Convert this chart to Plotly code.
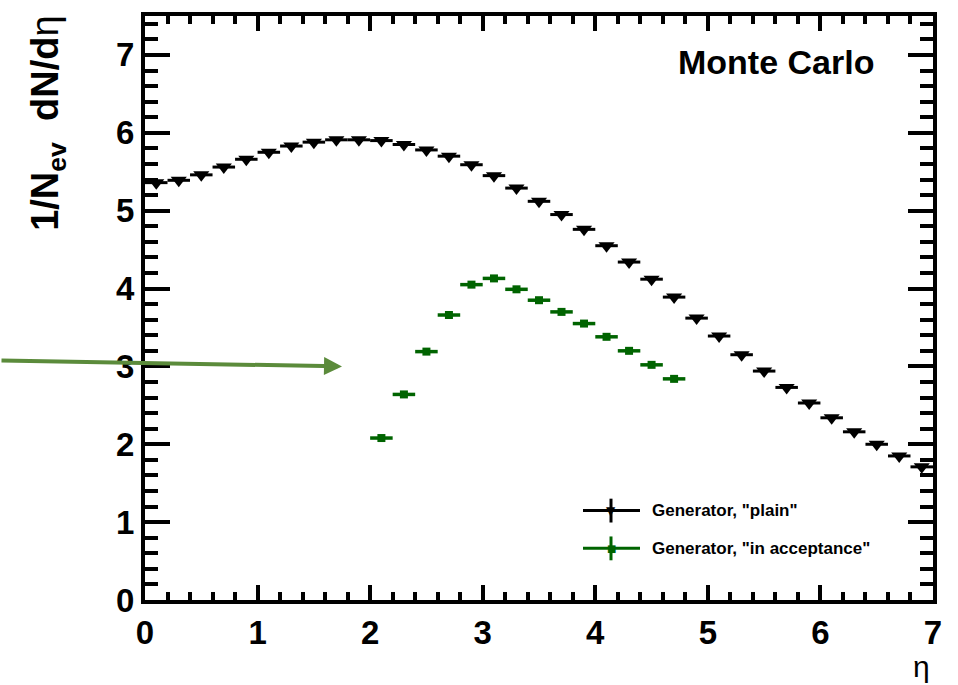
import plotly.graph_objects as go

# Pseudorapidity bin centres (bin width 0.2)
eta_plain = [0.1, 0.3, 0.5, 0.7, 0.9, 1.1, 1.3, 1.5, 1.7, 1.9, 2.1, 2.3,
             2.5, 2.7, 2.9, 3.1, 3.3, 3.5, 3.7, 3.9, 4.1, 4.3, 4.5, 4.7,
             4.9, 5.1, 5.3, 5.5, 5.7, 5.9, 6.1, 6.3, 6.5, 6.7, 6.9]
dndeta_plain = [5.36, 5.39, 5.46, 5.56, 5.66, 5.75, 5.83, 5.88, 5.91, 5.91,
                5.90, 5.85, 5.78, 5.70, 5.59, 5.45, 5.29, 5.12, 4.95, 4.76,
                4.55, 4.34, 4.12, 3.89, 3.62, 3.39, 3.15, 2.94, 2.73, 2.53,
                2.34, 2.16, 2.00, 1.85, 1.71]

eta_acc = [2.1, 2.3, 2.5, 2.7, 2.9, 3.1, 3.3, 3.5, 3.7, 3.9, 4.1, 4.3, 4.5, 4.7]
dndeta_acc = [2.08, 2.64, 3.19, 3.66, 4.05, 4.13, 3.99, 3.85, 3.70, 3.55,
              3.38, 3.20, 3.02, 2.84]

bin_half_width = 0.1

legend_labels = ['Generator, "plain"', 'Generator, "in acceptance"']
plain_color = "black"
acc_color = "#006400"
arrow_color = "#5b8b3b"

FONT = "Liberation Sans"

fig = go.Figure()

fig.add_trace(go.Scatter(
    x=eta_plain, y=dndeta_plain, mode="markers",
    marker=dict(symbol="triangle-down", size=14, color=plain_color),
    error_x=dict(type="constant", value=bin_half_width, thickness=3,
                 width=0, color=plain_color),
    showlegend=False,
))

fig.add_trace(go.Scatter(
    x=eta_acc, y=dndeta_acc, mode="markers",
    marker=dict(symbol="square", size=8, color=acc_color),
    error_x=dict(type="constant", value=bin_half_width, thickness=3.5,
                 width=0, color=acc_color),
    showlegend=False,
))

tickfont = dict(family=FONT, size=33, color="black", weight="bold")

common_axis = dict(
    showgrid=False, zeroline=False, showline=True, linecolor="black",
    linewidth=4, mirror="allticks", ticks="inside", tickwidth=3.5,
    tickcolor="black", tickfont=tickfont, tick0=0, dtick=1,
)

fig.update_xaxes(
    range=[0, 7], ticklen=15,
    minor=dict(dtick=0.2, ticks="inside", ticklen=8, tickwidth=3.5,
               tickcolor="black", showgrid=False),
    **common_axis,
)
fig.update_yaxes(
    range=[0, 7.5], ticklen=25,
    minor=dict(dtick=0.2, ticks="inside", ticklen=13, tickwidth=3.5,
               tickcolor="black", showgrid=False),
    **common_axis,
)

annotations = [
    # y-axis title
    dict(text="<b>1/N<sub>ev</sub>  dN/d</b>η", textangle=-90,
         xref="paper", yref="paper", x=-0.123, y=1.003,
         xanchor="center", yanchor="top", showarrow=False,
         font=dict(family=FONT, size=38, color="black")),
    # x-axis title
    dict(text="η", xref="paper", yref="paper", x=0.985, y=-0.114,
         xanchor="center", yanchor="middle", showarrow=False,
         font=dict(family=FONT, size=30, color="black")),
    # header label
    dict(text="<b>Monte Carlo</b>", xref="paper", yref="paper",
         x=0.928, y=0.922, xanchor="right", yanchor="middle",
         showarrow=False, font=dict(family=FONT, size=34, color="black")),
    # pointer arrow
    dict(text="", x=1.75, y=3.0, xref="x", yref="y", showarrow=True,
         ax=-342, ay=-6, axref="pixel", ayref="pixel",
         arrowhead=2, arrowsize=0.9, arrowwidth=4,
         arrowcolor=arrow_color, standoff=0),
]

# Legend block (hand-drawn entries)
shapes = []
leg_rows = [(0.1531, plain_color, "▼", 12), (0.0884, acc_color, "■", 10)]
lx0, lx1, lxc = (583 - 145) / 788, (640 - 145) / 788, (611 - 145) / 788
half_v = 12 / 588
for (ly, col, sym, sz), label in zip(leg_rows, legend_labels):
    shapes.append(dict(type="line", xref="paper", yref="paper",
                       x0=lx0, x1=lx1, y0=ly, y1=ly,
                       line=dict(color=col, width=3)))
    shapes.append(dict(type="line", xref="paper", yref="paper",
                       x0=lxc, x1=lxc, y0=ly - half_v, y1=ly + half_v,
                       line=dict(color=col, width=3)))
    annotations.append(dict(text=sym, xref="paper", yref="paper", x=lxc,
                            y=ly, xanchor="center", yanchor="middle",
                            showarrow=False,
                            font=dict(family="DejaVu Sans", size=sz, color=col)))
    annotations.append(dict(text="<b>" + label + "</b>", xref="paper",
                            yref="paper", x=(650 - 145) / 788, y=ly,
                            xanchor="left", yanchor="middle", showarrow=False,
                            font=dict(family=FONT, size=17, color="black")))

fig.update_layout(
    width=958, height=685,
    margin=dict(l=145, r=25, t=12, b=85),
    plot_bgcolor="white", paper_bgcolor="white",
    annotations=annotations, shapes=shapes,
    showlegend=False,
)

fig.write_html("out.html")
